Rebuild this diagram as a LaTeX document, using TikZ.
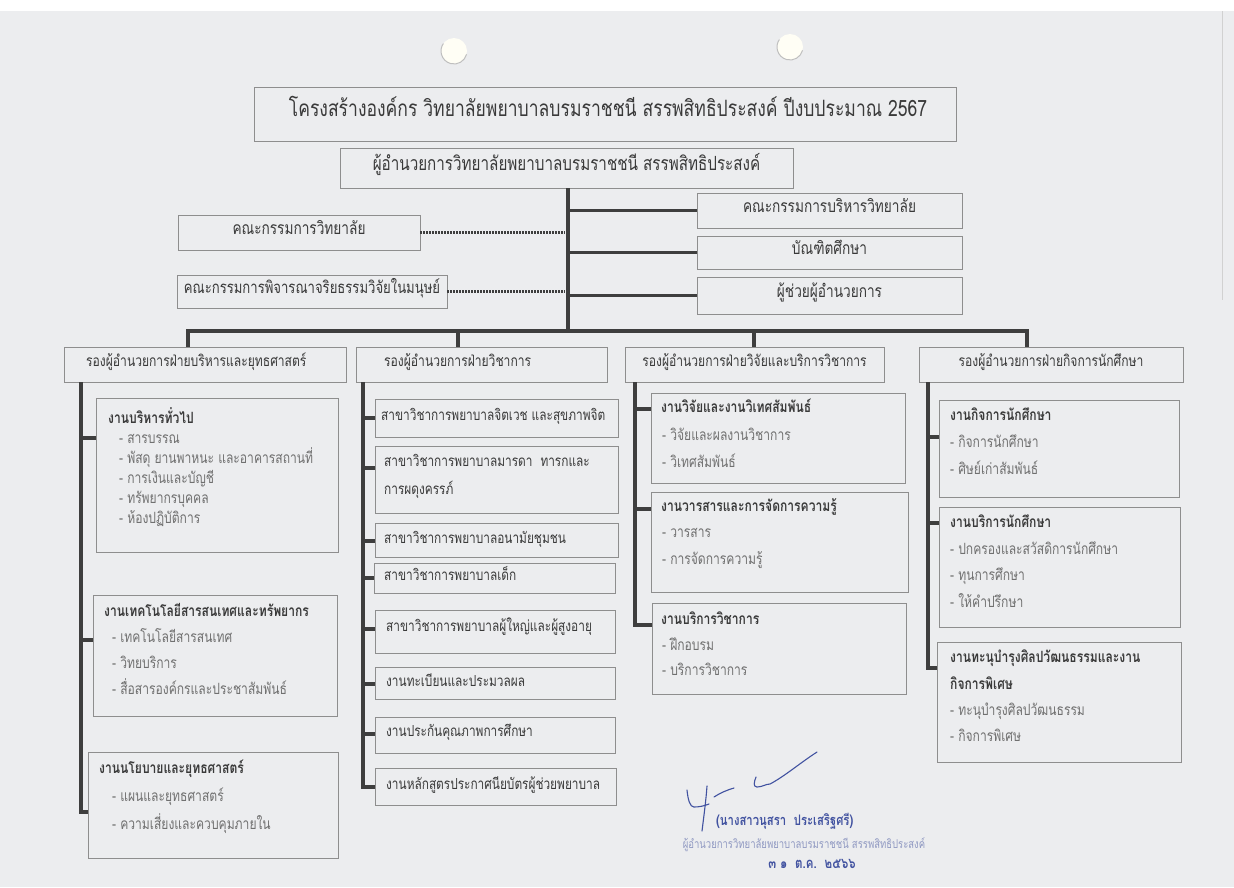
\documentclass[tikz,border=0pt]{standalone}
\usepackage{fontspec}
\setmainfont[Script=Thai, FakeStretch=0.78]{Loma}
\usetikzlibrary{fit}
\definecolor{paper}{HTML}{ECEDEF}
\definecolor{boxc}{HTML}{8E8E8E}
\definecolor{linec}{HTML}{3E3E3E}
\definecolor{txt}{HTML}{3A3A3A}
\definecolor{itx}{HTML}{707070}
\definecolor{ink}{HTML}{4152A0}
\definecolor{inkl}{HTML}{9099C2}
\tikzset{
  bx/.style={draw=boxc, line width=0.9pt, inner sep=0pt},
  ln/.style={draw=linec, line width=3.2pt, line join=miter},
  dl/.style={draw=linec, line width=2.2pt, dash pattern=on 1.3pt off 1.7pt},
  tx/.style={inner sep=0pt, text height=0.72em, text depth=0.26em, text=txt},
  hd/.style={tx, font=\fontsize{15.5}{17}\selectfont},
  rb/.style={tx, font=\fontsize{17.5}{19}\selectfont},
  tt/.style={tx, anchor=west, font=\fontsize{15.5}{17}\selectfont\bfseries},
  it/.style={tx, anchor=west, text=itx, font=\fontsize{15.5}{17}\selectfont},
  bt/.style={tx, anchor=west, font=\fontsize{15.2}{17}\selectfont},
  sig/.style={draw=ink, line width=1.1pt, line cap=round, line join=round}
}
\begin{document}
\begin{tikzpicture}[x=1pt,y=-1pt]
\useasboundingbox (0,0) rectangle (1234,887);
\fill[paper] (0,0) rectangle (1234,887);
\fill[white] (0,0) rectangle (1234,11);
\draw[draw=black!18, line width=0.8pt] (1222,11) -- (1222,300);
% punch holes
\fill[white!96!yellow] (454,51) circle (13);
\draw[draw=black!25, line width=1pt] (454,51) ++(15:13) arc[start angle=15, end angle=215, radius=13];
\fill[white!96!yellow] (790,47) circle (13);
\draw[draw=black!25, line width=1pt] (790,47) ++(15:13) arc[start angle=15, end angle=215, radius=13];

% ---------- top ----------
\node[bx, fit={(254,87) (956,141)}] (title) {};
\node[tx, font=\fontsize{22.5}{24}\selectfont] (titlet) at ([xshift=3pt]title.center) {โครงสร้างองค์กร วิทยาลัยพยาบาลบรมราชชนี สรรพสิทธิประสงค์ ปีงบประมาณ 2567};
\node[bx, fit={(340,148) (793,188)}] (dir) {};
\node[tx, font=\fontsize{19.5}{21}\selectfont] (dirt) at (dir.center) {ผู้อำนวยการวิทยาลัยพยาบาลบรมราชชนี สรรพสิทธิประสงค์};

\node[bx, fit={(697,193) (962,228)}] (r1) {};
\node[rb] (r1t) at (r1.center) {คณะกรรมการบริหารวิทยาลัย};
\node[bx, fit={(697,236) (962,269)}] (r2) {};
\node[rb] (r2t) at (r2.center) {บัณฑิตศึกษา};
\node[bx, fit={(697,277) (962,314)}] (r3) {};
\node[rb] (r3t) at (r3.center) {ผู้ช่วยผู้อำนวยการ};

\node[bx, fit={(178,215) (420,250)}] (l1) {};
\node[rb] (l1t) at (l1.center) {คณะกรรมการวิทยาลัย};
\node[bx, fit={(177,275) (447,308)}] (l2) {};
\node[tx, font=\fontsize{16.8}{18}\selectfont] (l2t) at (l2.center) {คณะกรรมการพิจารณาจริยธรรมวิจัยในมนุษย์};

% ---------- column headers ----------
\node[bx, fit={(64,347) (346,382)}] (c1) {};
\node[hd, anchor=west] (c1t) at (86,364.5) {รองผู้อำนวยการฝ่ายบริหารและยุทธศาสตร์};
\node[bx, fit={(356,347) (607,382)}] (c2) {};
\node[hd, anchor=west] (c2t) at (384,364.5) {รองผู้อำนวยการฝ่ายวิชาการ};
\node[bx, fit={(625,347) (884,382)}] (c3) {};
\node[hd] (c3t) at (c3.center) {รองผู้อำนวยการฝ่ายวิจัยและบริการวิชาการ};
\node[bx, fit={(919,347) (1183,382)}] (c4) {};
\node[hd] (c4t) at (c4.center) {รองผู้อำนวยการฝ่ายกิจการนักศึกษา};

% ---------- trunk and bus ----------
\coordinate (tk) at (568,331);
\coordinate (d1) at (188,331);
\coordinate (d2) at (458,331);
\coordinate (d3) at (754,331);
\coordinate (d4) at (1027,331);
\draw[ln] (tk |- dir.south) -- (tk);
\draw[ln] (r1.west -| tk) -- (r1.west);
\draw[ln] (r2.west -| tk) -- (r2.west);
\draw[ln] (r3.west -| tk) -- (r3.west);
\draw[dl] (l1.east) -- ([xshift=-3pt]l1.east -| tk);
\draw[dl] (l2.east) -- ([xshift=-3pt]l2.east -| tk);
\draw[ln] (d1 |- c1.north) -- (d1) -- (d4) -- (d4 |- c4.north);
\draw[ln] (d2) -- (d2 |- c2.north);
\draw[ln] (d3) -- (d3 |- c3.north);

% ---------- column 1 ----------
\node[bx, fit={(96,398) (338,552)}] (a1) {};
\node[tt] (a1h) at (108,421) {งานบริหารทั่วไป};
\node[it] (a1i1) at (119,441) {- สารบรรณ};
\node[it] (a1i2) at (119,461) {- พัสดุ ยานพาหนะ และอาคารสถานที่};
\node[it] (a1i3) at (119,481) {- การเงินและบัญชี};
\node[it] (a1i4) at (119,501) {- ทรัพยากรบุคคล};
\node[it] (a1i5) at (119,521) {- ห้องปฏิบัติการ};
\node[bx, fit={(93,595) (337,716)}] (a2) {};
\node[tt] (a2h) at (104,614) {งานเทคโนโลยีสารสนเทศและทรัพยากร};
\node[it] (a2i1) at (112,640) {- เทคโนโลยีสารสนเทศ};
\node[it] (a2i2) at (112,666) {- วิทยบริการ};
\node[it] (a2i3) at (112,692) {- สื่อสารองค์กรและประชาสัมพันธ์};
\node[bx, fit={(88,752) (338,858)}] (a3) {};
\node[tt] (a3h) at (99,771) {งานนโยบายและยุทธศาสตร์};
\node[it] (a3i1) at (112,799) {- แผนและยุทธศาสตร์};
\node[it] (a3i2) at (112,827) {- ความเสี่ยงและควบคุมภายใน};
\coordinate (v1) at (81,331);
\coordinate (a1k) at (81,438);
\coordinate (a2k) at (81,640);
\coordinate (a3k) at (81,812);
\draw[ln] (v1 |- c1.south) -- (a3k) -- (a3k -| a3.west);
\draw[ln] (a1k) -- (a1k -| a1.west);
\draw[ln] (a2k) -- (a2k -| a2.west);

% ---------- column 2 ----------
\node[bx, fit={(375,399) (618,437)}] (b1) {};
\node[bt] (b1t) at (381,418) {สาขาวิชาการพยาบาลจิตเวช และสุขภาพจิต};
\node[bx, fit={(375,446) (618,513)}] (b2) {};
\node[bt] (b2t) at (384,464) {สาขาวิชาการพยาบาลมารดา\ \ ทารกและ};
\node[bt] (b2u) at (384,492) {การผดุงครรภ์};
\node[bx, fit={(375,523) (618,557)}] (b3) {};
\node[bt] (b3t) at (384,541) {สาขาวิชาการพยาบาลอนามัยชุมชน};
\node[bx, fit={(374,563) (615,593)}] (b4) {};
\node[bt] (b4t) at (384,578) {สาขาวิชาการพยาบาลเด็ก};
\node[bx, fit={(375,610) (615,653)}] (b5) {};
\node[bt] (b5t) at (386,629) {สาขาวิชาการพยาบาลผู้ใหญ่และผู้สูงอายุ};
\node[bx, fit={(375,667) (615,699)}] (b6) {};
\node[bt] (b6t) at (386,684) {งานทะเบียนและประมวลผล};
\node[bx, fit={(375,717) (615,753)}] (b7) {};
\node[bt] (b7t) at (386,734) {งานประกันคุณภาพการศึกษา};
\node[bx, fit={(375,768) (616,805)}] (b8) {};
\node[bt] (b8t) at (386,787) {งานหลักสูตรประกาศนียบัตรผู้ช่วยพยาบาล};
\coordinate (v2) at (363,331);
\coordinate (b1k) at (363,418);
\coordinate (b2k) at (363,468);
\coordinate (b3k) at (363,541);
\coordinate (b4k) at (363,578);
\coordinate (b5k) at (363,629);
\coordinate (b6k) at (363,684);
\coordinate (b7k) at (363,734);
\coordinate (b8k) at (363,787);
\draw[ln] (v2 |- c2.south) -- (b8k) -- (b8k -| b8.west);
\foreach \k in {1,...,7} {\draw[ln] (b\k k) -- (b\k k -| b\k.west);}

% ---------- column 3 ----------
\node[bx, fit={(651,393) (905,483)}] (e1) {};
\node[tt] (e1h) at (661,410) {งานวิจัยและงานวิเทศสัมพันธ์};
\node[it] (e1i1) at (662,438) {- วิจัยและผลงานวิชาการ};
\node[it] (e1i2) at (662,465) {- วิเทศสัมพันธ์};
\node[bx, fit={(651,492) (908,592)}] (e2) {};
\node[tt] (e2h) at (661,509) {งานวารสารและการจัดการความรู้};
\node[it] (e2i1) at (662,535) {- วารสาร};
\node[it] (e2i2) at (662,562) {- การจัดการความรู้};
\node[bx, fit={(652,603) (906,694)}] (e3) {};
\node[tt] (e3h) at (661,622) {งานบริการวิชาการ};
\node[it] (e3i1) at (662,648) {- ฝึกอบรม};
\node[it] (e3i2) at (662,673) {- บริการวิชาการ};
\coordinate (v3) at (635,331);
\coordinate (e1k) at (635,409);
\coordinate (e2k) at (635,509);
\coordinate (e3k) at (635,625);
\draw[ln] (v3 |- c3.south) -- (e3k) -- (e3k -| e3.west);
\draw[ln] (e1k) -- (e1k -| e1.west);
\draw[ln] (e2k) -- (e2k -| e2.west);

% ---------- column 4 ----------
\node[bx, fit={(939,400) (1179,497)}] (f1) {};
\node[tt] (f1h) at (950,418) {งานกิจการนักศึกษา};
\node[it] (f1i1) at (950,445) {- กิจการนักศึกษา};
\node[it] (f1i2) at (950,472) {- ศิษย์เก่าสัมพันธ์};
\node[bx, fit={(939,507) (1180,627)}] (f2) {};
\node[tt] (f2h) at (950,525) {งานบริการนักศึกษา};
\node[it] (f2i1) at (950,552) {- ปกครองและสวัสดิการนักศึกษา};
\node[it] (f2i2) at (950,578) {- ทุนการศึกษา};
\node[it] (f2i3) at (950,605) {- ให้คำปรึกษา};
\node[bx, fit={(937,642) (1181,762)}] (f3) {};
\node[tt] (f3h) at (950,660) {งานทะนุบำรุงศิลปวัฒนธรรมและงาน};
\node[tt] (f3u) at (950,687) {กิจการพิเศษ};
\node[it] (f3i1) at (950,713) {- ทะนุบำรุงศิลปวัฒนธรรม};
\node[it] (f3i2) at (950,739) {- กิจการพิเศษ};
\coordinate (v4) at (928,331);
\coordinate (f1k) at (928,437);
\coordinate (f2k) at (928,523);
\coordinate (f3k) at (928,668);
\draw[ln] (v4 |- c4.south) -- (f3k) -- (f3k -| f3.west);
\draw[ln] (f1k) -- (f1k -| f1.west);
\draw[ln] (f2k) -- (f2k -| f2.west);

% ---------- signature ----------
\draw[sig] (687,790) .. controls (688,800) and (690,807) .. (694,807) .. controls (699,807) and (704,806) .. (709,804);
\draw[sig] (707,786) .. controls (706,800) and (704,815) .. (702,831);
\draw[sig] (714,797) .. controls (720,793) and (727,790) .. (734,788);
\draw[sig] (756,777) .. controls (754,782) and (753,787) .. (757,787) .. controls (762,787) and (766,784) .. (770,784) .. controls (785,776) and (800,763) .. (817,752);
\node[tx, anchor=west, text=ink, font=\fontsize{14.5}{16}\selectfont\bfseries] (signame) at (716,823) {(นางสาวนุสรา\ \ ประเสริฐศรี)};
\node[tx, text=inkl, font=\fontsize{12.2}{14}\selectfont] (sigpos) at (804,846) {ผู้อำนวยการวิทยาลัยพยาบาลบรมราชชนี สรรพสิทธิประสงค์};
\node[tx, text=ink, font=\fontsize{14.8}{16}\selectfont\bfseries] (sigdate) at (812,866) {๓ ๑\ \ ต.ค.\ \ ๒๕๖๖};
\end{tikzpicture}
\end{document}
